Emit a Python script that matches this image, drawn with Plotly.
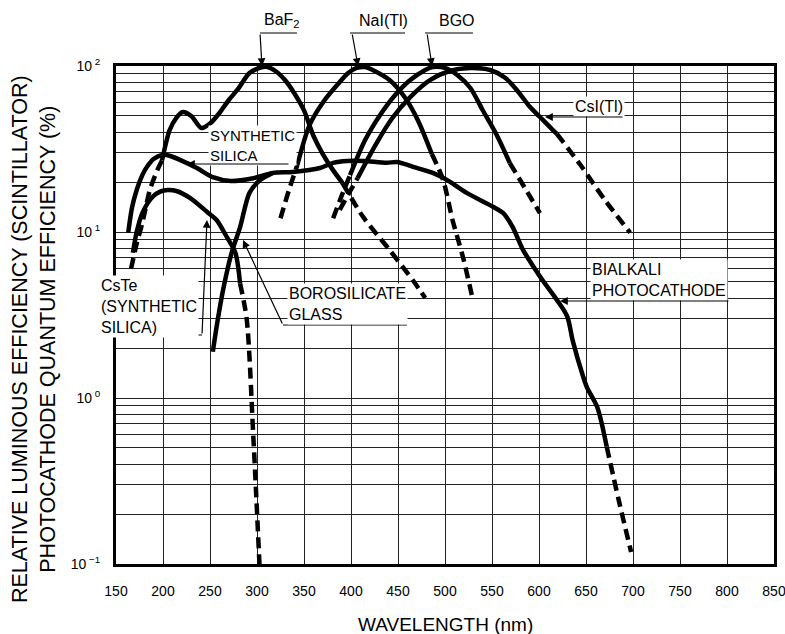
import plotly.graph_objects as go

# ---------------- data (wavelength in nm, efficiency in %) ----------------
BIALKALI_NM = [163, 167, 172, 178, 183, 190, 199, 207, 218, 236, 253, 272, 296, 317, 338, 367, 381, 396, 413, 438,
               449, 466, 487, 502, 523, 551, 562, 572, 583, 594, 604, 619, 630, 636, 646, 651, 662, 672]
BIALKALI_PCT = [9.9, 14, 17.9, 22, 24.7, 27.5, 29.1, 28.8, 27.2, 24.3, 21.4, 20.3, 21.1, 22.7, 23, 24.3, 26.1, 26.8, 26.8, 26.1,
                26.4, 24.7, 22.7, 20.6, 17.2, 14.2, 13, 10.7, 7.8, 6.2, 5.1, 3.9, 3.1, 2.2, 1.4, 1.16, 0.88, 0.51]
BIALKALI_TAIL_NM = [672, 685, 698]
BIALKALI_TAIL_PCT = [0.51, 0.24, 0.118]

BOROSILICATE_NM = [253, 258, 264, 273, 282, 292, 303, 317]
BOROSILICATE_PCT = [1.9, 2.9, 4.5, 7.5, 10.7, 17.2, 20.5, 22.7]

CSTE_NM = [168, 172, 178, 189, 197, 205, 215, 229, 247, 257, 268, 277, 282]
CSTE_PCT = [7.5, 10, 13, 16.3, 17.5, 17.9, 17.6, 16, 13.2, 11.8, 9.3, 7.5, 4.9]
CSTE_TAIL_NM = [282, 289, 296, 303]
CSTE_TAIL_PCT = [4.9, 3.0, 0.6, 0.09]

BAF2_LEAD_NM = [166, 172, 178, 186, 194, 199]
BAF2_LEAD_PCT = [6, 8.5, 11.3, 17.9, 23.6, 27]
BAF2_NM = [199, 207, 214, 221, 230, 241, 250, 260, 270, 279, 292, 302, 310, 320, 330, 340, 350, 360, 370, 380, 391]
BAF2_PCT = [27, 41, 48.6, 52.8, 50, 42.3, 45, 52.1, 62.4, 71.7, 90.7, 97, 99, 93, 82, 68, 54, 38, 29.5, 24, 19.7]
BAF2_TAIL_NM = [391, 413, 441, 466, 479]
BAF2_TAIL_PCT = [19.7, 12.3, 7.8, 5.1, 4.0]

NAI_LEAD_NM = [325, 334, 343]
NAI_LEAD_PCT = [12.1, 17.9, 25.4]
NAI_NM = [343, 356, 372, 388, 397, 406, 415, 423, 441, 457, 471, 486]
NAI_PCT = [25.4, 44.2, 62.4, 80.1, 90.8, 97.3, 98.6, 94.6, 82.3, 65, 47.3, 29.5]
NAI_TAIL_NM = [486, 498, 508, 519, 529]
NAI_TAIL_PCT = [29.5, 20.6, 11.8, 7.1, 4.06]

BGO_LEAD_NM = [381, 390, 399]
BGO_LEAD_PCT = [12.1, 16.5, 22]
BGO_NM = [399, 415, 431, 447, 463, 479, 487, 500, 513, 527, 540, 555, 569]
BGO_PCT = [22, 35.8, 50.7, 66.9, 82.3, 94.6, 98.6, 97.3, 88.2, 73.7, 54.3, 38.4, 26]
BGO_TAIL_NM = [569, 585, 601]
BGO_TAIL_PCT = [26, 18.4, 13]

CSI_LEAD_NM = [388, 398, 407]
CSI_LEAD_PCT = [13.6, 17.2, 21.1]
CSI_NM = [407, 426, 444, 463, 484, 505, 527, 548, 564, 577, 590, 601, 615, 619]
CSI_PCT = [21.1, 33.4, 48.6, 65, 82.3, 93.3, 97.3, 94.6, 85, 71, 57, 49.3, 41, 39]
CSI_TAIL_NM = [619, 644, 670, 697]
CSI_TAIL_PCT = [39, 25.4, 15.6, 9.9]

X_TICKS = list(range(150, 851, 50))
Y_TICK_VALUES = [0.1, 1, 10, 100]
Y_TICK_LABELS = ["10<sup> \u22121</sup>", "10<sup> 0</sup>", "10<sup> 1</sup>", "10<sup> 2</sup>"]
Y_MINOR_GRID = [k * 10.0 ** e for e in (-1, 0, 1) for k in range(2, 10)]

# ---------------- figure ----------------
FONT = "Liberation Sans, Arial, Helvetica, sans-serif"
SOLID = dict(color="black", width=4.5, shape="spline", smoothing=0.8)
DASHED = dict(color="black", width=4.5, shape="spline", smoothing=0.8, dash="11px,6px")

segments = [
    (BIALKALI_NM, BIALKALI_PCT, SOLID),
    (BIALKALI_TAIL_NM, BIALKALI_TAIL_PCT, DASHED),
    (BOROSILICATE_NM, BOROSILICATE_PCT, SOLID),
    (CSTE_NM, CSTE_PCT, SOLID),
    (CSTE_TAIL_NM, CSTE_TAIL_PCT, DASHED),
    (BAF2_LEAD_NM, BAF2_LEAD_PCT, DASHED),
    (BAF2_NM, BAF2_PCT, SOLID),
    (BAF2_TAIL_NM, BAF2_TAIL_PCT, DASHED),
    (NAI_LEAD_NM, NAI_LEAD_PCT, DASHED),
    (NAI_NM, NAI_PCT, SOLID),
    (NAI_TAIL_NM, NAI_TAIL_PCT, DASHED),
    (BGO_LEAD_NM, BGO_LEAD_PCT, DASHED),
    (BGO_NM, BGO_PCT, SOLID),
    (BGO_TAIL_NM, BGO_TAIL_PCT, DASHED),
    (CSI_LEAD_NM, CSI_LEAD_PCT, DASHED),
    (CSI_NM, CSI_PCT, SOLID),
    (CSI_TAIL_NM, CSI_TAIL_PCT, DASHED),
]

fig = go.Figure()
for xs, ys, ln in segments:
    fig.add_trace(go.Scatter(x=xs, y=ys, mode="lines", line=ln, hoverinfo="skip", showlegend=False))

# plot area in page pixels
L, R, T, B = 116, 774, 66, 564


def fx(px):
    return (px - L) / (R - L)


def fy(py):
    return (B - py) / (B - T)


def label(left, cy, text, size=16, bg=True):
    return dict(x=fx(left), y=fy(cy), xref="paper", yref="paper", xanchor="left", yanchor="middle",
                text=text, showarrow=False, align="left", font=dict(size=size, color="black", family=FONT),
                bgcolor="white" if bg else "rgba(0,0,0,0)", borderpad=1)


def arrow(tip, tail):
    return dict(x=fx(tip[0]), y=fy(tip[1]), xref="paper", yref="paper", axref="pixel", ayref="pixel",
                ax=tail[0] - tip[0], ay=tail[1] - tip[1], text="", showarrow=True, arrowhead=2,
                arrowsize=1.3, arrowwidth=1.2, arrowcolor="black", standoff=0, startstandoff=0)


def hline(x0, x1, y):
    return dict(type="line", xref="paper", yref="paper", x0=fx(x0), x1=fx(x1), y0=fy(y), y1=fy(y),
                line=dict(color="black", width=1.2), layer="above")


annotations = [
    label(262, 21, "BaF<sub>2</sub>", bg=False),
    label(357, 21, "NaI(Tl)", bg=False),
    label(437, 21, "BGO", bg=False),
    label(573, 106, "CsI(Tl)"),
    label(208, 145, "SYNTHETIC<br>SILICA", size=15),
    label(99, 306, "CsTe<br>(SYNTHETIC<br>SILICA)"),
    label(287, 304, "BOROSILICATE<br>GLASS"),
    label(590, 280, "BIALKALI<br>PHOTOCATHODE"),
    arrow((262, 66), (260, 33)),
    arrow((358, 66), (352, 33)),
    arrow((432, 66), (427, 33)),
    arrow((545, 117), (624, 117)),
    arrow((187, 164), (290, 164)),
    arrow((207, 220), (202, 335)),
    arrow((243, 240), (283, 325)),
    arrow((560, 301), (730, 301)),
    dict(x=fx(34), y=fy(339), xref="paper", yref="paper", xanchor="center", yanchor="middle",
         text="RELATIVE LUMINOUS EFFICIENCY (SCINTILLATOR)<br>PHOTOCATHODE QUANTUM EFFICIENCY (%)",
         textangle=-90, showarrow=False, font=dict(size=21.5, color="black", family=FONT)),
    dict(x=fx(445), y=fy(624), xref="paper", yref="paper", xanchor="center", yanchor="middle",
         text="WAVELENGTH (nm)", showarrow=False, font=dict(size=19, color="black", family=FONT)),
]

shapes = [
    hline(260, 297, 33),
    hline(350, 405, 33),
    hline(425, 473, 33),
    hline(100, 202, 335),
    hline(283, 407, 325),
]

fig.update_layout(
    width=785, height=634,
    margin=dict(l=L, r=785 - R, t=T, b=634 - B, autoexpand=False),
    paper_bgcolor="white", plot_bgcolor="white",
    font=dict(family=FONT, color="black"),
    showlegend=False,
    annotations=annotations,
    shapes=shapes,
    xaxis=dict(range=[150, 850], tickmode="array", tickvals=X_TICKS, showgrid=True, gridcolor="#222222",
               gridwidth=1, zeroline=False, showline=True, linecolor="black", linewidth=3, mirror=True,
               ticks="", tickfont=dict(size=14, color="black"), ticklabelstandoff=12, automargin=False,
               ticklabeloverflow="allow"),
    yaxis=dict(type="log", range=[-1, 2], tickmode="array", tickvals=Y_TICK_VALUES, ticktext=Y_TICK_LABELS,
               showgrid=True, gridcolor="#222222", gridwidth=1, zeroline=False, showline=True,
               linecolor="black", linewidth=3, mirror=True, ticks="", tickfont=dict(size=14, color="black"),
               ticklabelstandoff=10, automargin=False, ticklabeloverflow="allow",
               minor=dict(tickmode="array", tickvals=Y_MINOR_GRID, showgrid=True, gridcolor="#222222",
                          gridwidth=1, ticks="")),
)

fig.write_html("out.html", config={"displayModeBar": False},
               post_script="document.body.style.margin='0px';document.body.style.padding='0px';"
                           "document.body.style.overflow='hidden';")
